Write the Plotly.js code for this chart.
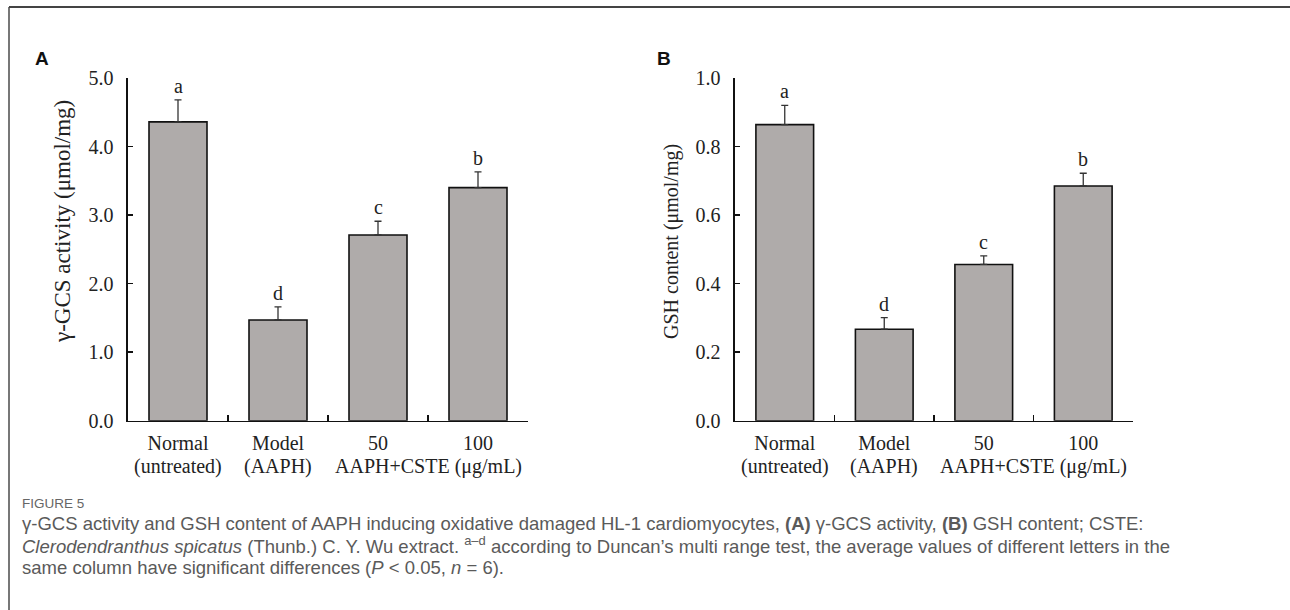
<!DOCTYPE html>
<html>
<head>
<meta charset="utf-8">
<script src="https://cdn.plot.ly/plotly-3.0.1.min.js"></script>
<style>html,body{margin:0;padding:0;background:#fff}#chart{width:1290px;height:610px}</style>
</head>
<body>
<div id="chart"></div>
<script>
// ---- data ----
const categories = ["Normal", "Model", "50", "100"];
const tickLabels = ["Normal", "Model", "50", "100"];
const subLabels = ["(untreated)", "(AAPH)"];
const groupLabel = "AAPH+CSTE (μg/mL)";
const gcsActivity = [4.36, 1.47, 2.71, 3.40];
const gcsError = [0.32, 0.19, 0.20, 0.23];
const gcsLetters = ["a", "d", "c", "b"];
const gshContent = [0.864, 0.267, 0.456, 0.685];
const gshError = [0.056, 0.034, 0.025, 0.037];
const gshLetters = ["a", "d", "c", "b"];
const gcsTicks = [0, 1, 2, 3, 4, 5];
const gshTicks = [0, 0.2, 0.4, 0.6, 0.8, 1.0];

// ---- layout helpers ----
const W = 1290, H = 610;
const px = v => v / W;
const py = v => 1 - v / H;
const serif = "Liberation Serif, Times New Roman, serif";
const ink = "#222";
const barFill = "#afabaa";
const xIdx = categories.map((_, i) => i);

function barTrace(vals, errs, xa, ya) {
  return {
    type: "bar", x: xIdx, y: vals, xaxis: xa, yaxis: ya, width: 0.58,
    marker: {color: barFill, line: {color: "#111", width: 1.6}},
    error_y: {type: "data", array: errs, arrayminus: errs.map(() => 0), symmetric: false,
              color: "#333", thickness: 1.3, width: 3.5},
    hoverinfo: "skip", showlegend: false
  };
}

const traces = [
  barTrace(gcsActivity, gcsError, "x", "y"),
  barTrace(gshContent, gshError, "x2", "y2")
];

function xAxis(domain, anchor) {
  return {
    domain: domain, anchor: anchor, range: [-0.5, 3.5], type: "linear",
    tickmode: "array", tickvals: xIdx, ticktext: tickLabels,
    ticks: "", showgrid: false, zeroline: false,
    showline: true, linecolor: "#111", linewidth: 1.6,
    tickfont: {family: serif, size: 20, color: ink},
    ticklabelstandoff: 4,
    minor: {tickmode: "array", tickvals: [0.5, 1.5, 2.5], ticks: "inside", ticklen: 6,
            tickcolor: "#111", tickwidth: 1.5, showgrid: false},
    fixedrange: true
  };
}
function yAxis(domain, anchor, range, tickvals) {
  return {
    domain: domain, anchor: anchor, range: range,
    tickmode: "array", tickvals: tickvals, tickformat: ".1f",
    ticks: "inside", ticklen: 5, tickwidth: 1.5, tickcolor: "#111",
    showline: true, linecolor: "#111", linewidth: 1.6,
    showgrid: false, zeroline: false,
    tickfont: {family: serif, size: 20, color: ink},
    ticklabelstandoff: 9,
    fixedrange: true
  };
}

const yDom = [py(420.7), py(78)];
const layout = {
  width: W, height: H, margin: {l: 0, r: 0, t: 0, b: 0},
  paper_bgcolor: "#fff", plot_bgcolor: "rgba(0,0,0,0)",
  showlegend: false,
  xaxis: xAxis([px(128), px(528)], "y"),
  yaxis: yAxis(yDom, "x", [0, 5], gcsTicks),
  xaxis2: xAxis([px(735), px(1133)], "y2"),
  yaxis2: yAxis(yDom, "x2", [0, 1], gshTicks),
  shapes: [
    {type: "line", xref: "paper", yref: "paper", x0: px(9), x1: px(9), y0: 0, y1: py(7),
     line: {color: "#555", width: 1.6}},
    {type: "line", xref: "paper", yref: "paper", x0: px(9), x1: 1, y0: py(7), y1: py(7),
     line: {color: "#444", width: 2}}
  ],
  annotations: []
};

function letters(vals, errs, labs, xa, ya) {
  labs.forEach((t, i) => {
    layout.annotations.push({
      xref: xa, yref: ya, x: xIdx[i], y: vals[i] + errs[i], text: t,
      showarrow: false, yanchor: "bottom", yshift: 1,
      font: {family: serif, size: 20, color: ink}
    });
  });
}
letters(gcsActivity, gcsError, gcsLetters, "x", "y");
letters(gshContent, gshError, gshLetters, "x2", "y2");

const panels = [
  {xa: "x", lab: "A", lx: 42, title: "γ-GCS activity (μmol/mg)", tx: 62, ty: 222, ts: 23},
  {xa: "x2", lab: "B", lx: 664, title: "GSH content (μmol/mg)", tx: 672, ty: 242, ts: 20}
];
panels.forEach(p => {
  subLabels.forEach((s, i) => {
    layout.annotations.push({
      xref: p.xa, yref: "paper", x: xIdx[i], y: py(466), text: s, showarrow: false,
      xanchor: "center", yanchor: "middle", font: {family: serif, size: 20, color: ink}
    });
  });
  layout.annotations.push({
    xref: p.xa, yref: "paper", x: 2.5, y: py(466), text: groupLabel, showarrow: false,
    xanchor: "center", yanchor: "middle", font: {family: serif, size: 20, color: ink}
  });
  layout.annotations.push({
    xref: "paper", yref: "paper", x: px(p.lx), y: py(58), text: "<b>" + p.lab + "</b>",
    showarrow: false, xanchor: "center", yanchor: "middle",
    font: {family: "Liberation Sans, Arial, sans-serif", size: 19, color: "#111"}
  });
  layout.annotations.push({
    xref: "paper", yref: "paper", x: px(p.tx), y: py(p.ty), text: p.title, textangle: -90,
    showarrow: false, xanchor: "center", yanchor: "middle",
    font: {family: serif, size: p.ts, color: ink}
  });
});

// caption
const capFont = "Liberation Sans Narrow, Arial Narrow, sans-serif";
const captionLines = [
  "γ-GCS activity and GSH content of AAPH inducing oxidative damaged HL-1 cardiomyocytes, <b>(A)</b> γ-GCS activity, <b>(B)</b> GSH content; CSTE:",
  "<i>Clerodendranthus spicatus</i> (Thunb.) C. Y. Wu extract. <sup>a–d</sup> according to Duncan’s multi range test, the average values of different letters in the",
  "same column have significant differences (<i>P</i> &lt; 0.05, <i>n</i> = 6)."
];
layout.annotations.push({
  xref: "paper", yref: "paper", x: px(20), y: py(503), text: "FIGURE 5", showarrow: false,
  xanchor: "left", yanchor: "middle", font: {family: capFont, size: 13.5, color: "#666"}
});
[523, 545, 567].forEach((yy, i) => {
  layout.annotations.push({
    xref: "paper", yref: "paper", x: px(20), y: py(yy), text: captionLines[i], showarrow: false,
    xanchor: "left", yanchor: "middle", font: {family: capFont, size: 18.5, color: "#5a5a5a"}
  });
});

Plotly.newPlot("chart", traces, layout, {displayModeBar: false, staticPlot: true});
</script>
</body>
</html>
